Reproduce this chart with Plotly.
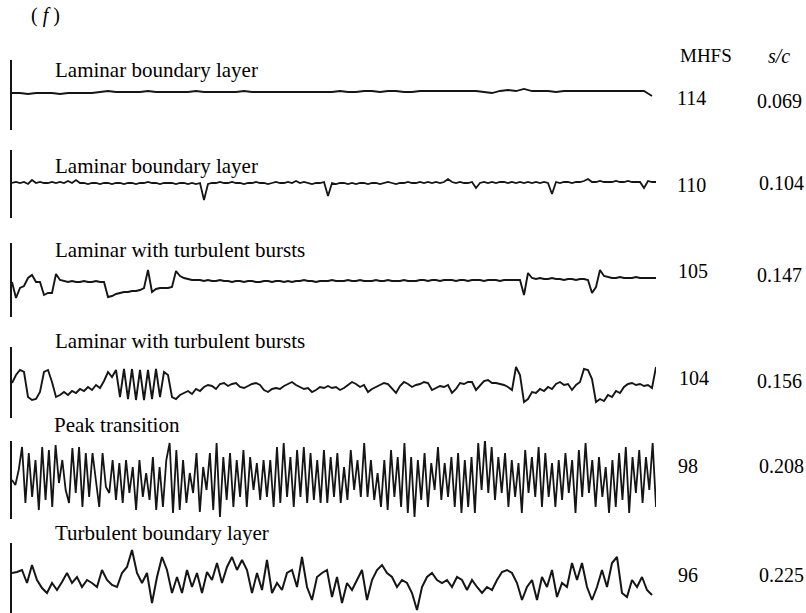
import numpy as np
import plotly.graph_objects as go

# ---------------- data (signal deviation from each trace's mean level, arbitrary units) ----------------
laminar_1 = [-1,-1,-2,-1,-1,-1,-2,-1,-1,-1, -1,0,1,0,0,0,0,1,0,0, 0,0,0,1,0,0,0,0,0,1,
             0,0,0,0,0,0,0,0,0,0, 0,1,0,0,1,1,0,1,1,0, 0,1,1,1,1,1,1,1,1,0,
             -1,1,2,1,3,1,1,1,0,1, 1,1,1,1,1,1,1,1,1,1, -4]

laminar_2 = [1,2,1,2,0,4,1,2,1,1, 2,1,2,1,3,1,4,1,1,0, 1,1,0,1,1,0,1,1,0,1,
             1,0,1,1,2,1,1,0,1,1, 1,0,1,1,0,1,0,1,-16,0, 1,1,2,1,1,2,1,1,0,1,
             1,2,1,1,0,1,2,1,1,2, 1,3,1,2,1,0,1,1,2,-12, 1,0,1,1,0,1,0,1,1,0,
             1,1,0,1,2,1,0,1,1,2, 1,1,2,1,2,1,2,1,2,5, 2,1,2,1,1,2,-4,1,2,1,
             2,1,2,2,1,2,1,2,1,2, 1,2,1,2,1,-10,2,1,2,2, 1,2,2,3,5,2,2,3,2,2,
             2,3,2,2,3,2,2,2,-4,3,2,2]

bursts_1 = [0,-16,-6,-4,4,7,0,0,-13,-11, -11,8,2,1,0,1,0,0,1,0, 0,1,0,0,-15,-14,-12,-11,-10,-10,
            -9,-9,-8,-6,12,-10,-7,-6,-6,-6, -5,11,6,4,3,2,2,2,1,2, 1,1,2,1,1,0,1,1,0,1,
            1,0,0,1,1,0,1,1,0,1, 0,1,1,2,1,1,0,1,1,1, 2,1,1,1,2,1,1,2,1,1,
            1,2,1,1,2,1,1,1,2,1, 1,1,2,2,1,2,2,1,2,2, 2,1,2,2,1,2,2,2,1,2,
            2,2,1,2,2,2,2,2,-13,9, 4,3,4,3,3,4,3,3,2,3, 3,2,3,3,2,-11,-5,12,6,5,
            4,4,5,4,4,4,5,4,4,4,4,4]

bursts_2 = [4,12,17,15,-10,-13,-12,-5,15,17, 5,-10,-8,-5,-8,-4,-6,-2,-4,0, -3,2,-1,6,15,10,17,-10,18,-12,
            18,-13,17,-13,17,-12,18,-10,15,12, -10,-12,-8,-6,-4,-7,-2,-4,0,2, 1,-2,3,4,1,3,4,0,-1,1,
            3,4,2,-3,-5,-2,-1,-2,1,3, 5,2,0,-2,-1,-5,-3,0,-1,1, -1,0,-3,-1,2,5,3,0,2,-5,
            -2,0,2,4,3,-2,-6,1,5,3, 0,2,3,5,4,-3,-1,1,0,2, -6,-2,4,3,5,5,-3,2,6,7,
            4,4,3,2,0,-3,20,12,-15,-12, -5,-6,-2,-4,0,-2,3,5,2,3, -3,2,5,18,17,8,-15,-12,-14,-8,
            -10,-4,-6,0,3,4,2,3,1,2,-1,20]

peak = [0,-5,10,33,-23,27,-17,20,-30,33, -20,30,-27,35,-3,20,-10,-23,32,-13,
        33,-27,27,-17,27,-3,-27,27,-7,-13, 20,-20,17,-23,20,-13,13,-30,20,-17,
        7,-20,23,-30,13,-27,20,37,-33,30, -30,20,-23,7,-13,27,-32,13,-10,27,
        -30,37,-37,23,-20,27,-27,20,-17,30, -27,23,-10,17,-20,20,-17,20,-27,33,
        -23,37,-17,23,-27,30,-17,33,-23,27, -20,20,-23,30,-23,23,-17,27,-23,13,
        -20,30,-10,20,-17,37,-17,20,-20,7, -27,20,-30,30,-17,23,-27,37,-33,23,
        -37,20,-20,27,-27,17,-10,33,-20,17, -17,23,-27,27,-33,20,-27,23,-33,37,
        -10,40,-13,33,-20,23,-13,27,-27,20, -17,17,-33,30,-13,23,-17,33,-27,27,
        -17,17,-27,20,-20,27,-13,20,-33,30, -17,37,-13,20,-27,23,-17,13,-33,20,
        -27,27,-20,33,-33,23,-13,30,-23,23, -10,37,-27]

turbulent = [5,6,8,-5,13,-2,-10,-15,-5,-12, -4,5,-5,1,-9,-2,-5,-9,8,-2,
             -7,-9,5,11,28,5,-5,5,-25,1, 21,8,-15,1,-15,8,-9,5,-15,6,
             -2,15,-5,11,21,8,18,8,-15,5, -12,18,-15,-5,-12,5,8,-9,21,-9,
             -22,1,5,8,-19,1,-25,-5,-12,-2, 8,-22,-2,8,13,5,1,-9,-2,-5,
             -15,-32,-9,1,5,-2,-5,-2,-9,1, -2,-12,-2,-9,-15,-9,-12,-2,6,8,
             5,-5,-22,-9,-2,-22,1,-9,8,-19, -5,-9,15,-2,15,-9,-22,-9,8,-9,
             15,21,-15,-19,-2,-9,1,-12,-17]

trace_labels = ["Laminar boundary layer", "Laminar boundary layer", "Laminar with turbulent bursts",
                "Laminar with turbulent bursts", "Peak transition", "Turbulent boundary layer"]
mhfs = ["114", "110", "105", "104", "98", "96"]
s_over_c = ["0.069", "0.104", "0.147", "0.156", "0.208", "0.225"]
durations = [640, 644, 644, 644, 644, 640]   # record length of each trace (time units)

series = [laminar_1, laminar_2, bursts_1, bursts_2, peak, turbulent]

# ---------------- layout helpers (pixel geometry of the page) ----------------
W, H = 806, 613
px = lambda x: x / W
py = lambda y: 1 - y / H

# vertical extent of each trace's left bar (top, bottom) and its mean level (pixel rows)
bands = [(60, 130, 92), (150, 218, 184), (243, 317, 282), (347, 418, 387), (441, 519, 480), (543, 613, 578)]
label_pos = [(53, 77), (53, 173), (53, 257), (53, 348), (52, 432), (53, 540)]
mhfs_pos = [(675, 105), (675, 192), (676, 278), (677, 385), (676, 473), (676, 582)]
sc_pos = [(755, 108), (757, 190), (755, 282), (755, 388), (757, 473), (757, 582)]
widths = [1.8, 1.8, 1.9, 1.9, 1.8, 2.0]

FONT = "Liberation Serif"
FS = 21

fig = go.Figure()
layout = dict(
    width=W, height=H, margin=dict(l=0, r=0, t=0, b=0),
    paper_bgcolor="white", plot_bgcolor="white", showlegend=False,
    xaxis=dict(domain=[px(12), px(656)], range=[0, 644], visible=False),
)

for k, (vals, dur, (top, bot, mid), lw) in enumerate(zip(series, durations, bands, widths), start=1):
    t = np.linspace(0, dur, len(vals))
    name = "y" if k == 1 else f"y{k}"
    fig.add_trace(go.Scatter(x=t, y=vals, mode="lines", xaxis="x", yaxis=name,
                             line=dict(color="#151515", width=lw),
                             hoverinfo="skip"))
    layout["yaxis" if k == 1 else f"yaxis{k}"] = dict(
        domain=[py(bot), py(top)], range=[-(bot - mid), mid - top], anchor="x",
        showline=True, linecolor="#151515", linewidth=2, showgrid=False, zeroline=False,
        showticklabels=False, ticks="")

fig.update_layout(**layout)

def txt(s, x, baseline, size=FS):
    fig.add_annotation(text=s, x=px(x), y=py(baseline - 7), xref="paper", yref="paper",
                       xanchor="left", yanchor="middle", showarrow=False,
                       font=dict(family=FONT, size=size, color="black"))

txt("( <i>f</i> )", 29, 22, 20)
txt("MHFS", 678, 63, 19)
txt("<i>s/c</i>", 766, 63, 20)
for lab, (x, b) in zip(trace_labels, label_pos):
    txt(lab, x, b)
for m, (x, b) in zip(mhfs, mhfs_pos):
    txt(m, x, b, 20)
for s, (x, b) in zip(s_over_c, sc_pos):
    txt(s, x, b, 20)

fig.write_html("out.html")
